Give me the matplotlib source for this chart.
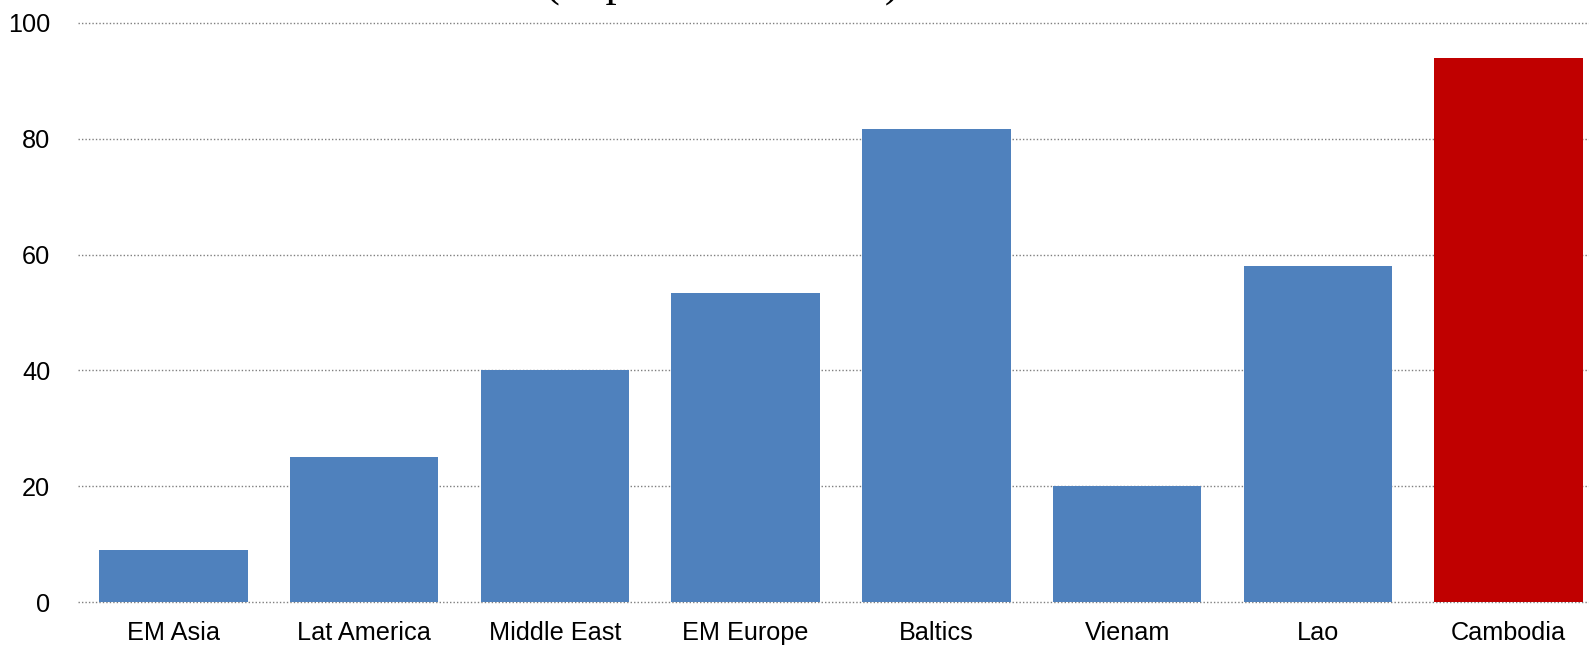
import matplotlib
matplotlib.use("Agg")
import matplotlib.pyplot as plt

regions = ['EM Asia', 'Lat America', 'Middle East', 'EM Europe',
           'Baltics', 'Vienam', 'Lao', 'Cambodia']
values = [9, 25, 40, 53.3, 81.7, 20, 58, 94]
colors = ['#4F81BD'] * 7 + ['#C00000']

W, H = 1589, 647
fig = plt.figure(figsize=(W / 100, H / 100), dpi=100)
# last category runs a little past the right edge
ax = fig.add_axes([78 / W, (H - 602) / H, (1604 - 78) / W, (602 - 23) / H])

x = range(len(regions))
ax.bar(x, values, width=0.778, color=colors, zorder=3)

ax.set_xlim(-0.5, len(regions) - 0.5)
ax.set_ylim(0, 100)
ax.set_yticks([0, 20, 40, 60, 80, 100])
ax.set_xticks(list(x))
ax.set_xticklabels(regions)
ax.grid(axis='y', linestyle=(0, (1, 1.5)), color='#7F7F7F', linewidth=1.0, zorder=0)
ax.set_axisbelow(True)
for gl in ax.get_ygridlines():
    gl.set_clip_on(False)
for s in ax.spines.values():
    s.set_visible(False)
ax.tick_params(length=0, labelsize=18.2, labelcolor='black')
ax.tick_params(axis='x', pad=14)
ax.tick_params(axis='y', pad=20)
for lbl in ax.get_xticklabels() + ax.get_yticklabels():
    lbl.set_family(['Liberation Sans', 'DejaVu Sans'])

# title line sits above the top edge, only its descenders show
fig.text(722 / W, 1 + 4 / H, '(in percent of GDP)', ha='center', va='baseline',
         fontsize=32, family=['Liberation Serif', 'DejaVu Serif'])

fig.savefig('out.png', dpi=100)
